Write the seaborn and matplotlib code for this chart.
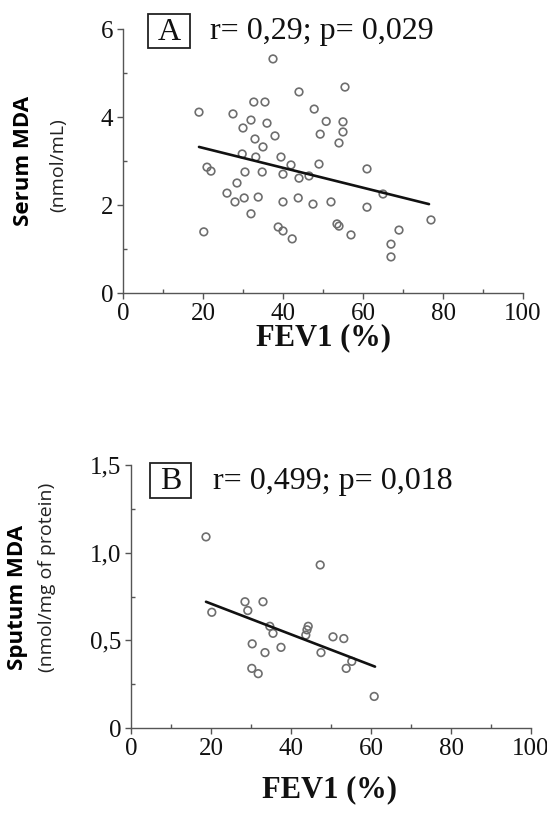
import matplotlib
matplotlib.use("Agg")
import matplotlib.pyplot as plt
import seaborn as sns
import pandas as pd
from matplotlib.patches import Rectangle
from matplotlib.ticker import MultipleLocator

# ---- data ----
fev1_a = [19, 27.5, 32.7, 35.5, 37.5, 32, 36, 30, 38, 33, 35, 29.8, 33.2, 39.5, 42,
          44, 55.5, 47.8, 50.8, 55, 55, 49.3, 54, 49, 61, 21, 22, 30.5, 34.8, 40,
          44, 46.5, 28.5, 26, 28, 30.3, 33.8, 40, 43.8, 47.5, 52, 61, 65, 32, 20.2,
          38.8, 40, 42.3, 53.5, 54, 57, 69, 67, 67, 77]
mda_a = [4.11, 4.07, 4.34, 4.34, 5.32, 3.93, 3.86, 3.75, 3.57, 3.5, 3.32, 3.16, 3.09, 3.09, 2.91,
         4.57, 4.68, 4.18, 3.9, 3.89, 3.66, 3.61, 3.41, 2.93, 2.82, 2.86, 2.77, 2.75, 2.75, 2.7,
         2.61, 2.66, 2.5, 2.27, 2.07, 2.16, 2.18, 2.07, 2.16, 2.02, 2.07, 1.95, 2.25, 1.8, 1.39,
         1.5, 1.41, 1.23, 1.57, 1.52, 1.32, 1.43, 1.11, 0.82, 1.66]
fit_a_x = [19, 76.5]
fit_a_y = [3.32, 2.02]

fev1_b = [18.75, 20.2, 28.5, 29.2, 33, 34.7, 35.5, 30.3, 33.5, 37.5, 30.2, 31.8,
          44.3, 44, 43.7, 47.3, 47.5, 50.5, 53.2, 55.2, 53.8, 60.8]
mda_b = [1.09, 0.66, 0.72, 0.67, 0.72, 0.58, 0.54, 0.48, 0.43, 0.46, 0.34, 0.31,
         0.58, 0.56, 0.53, 0.93, 0.43, 0.52, 0.51, 0.38, 0.34, 0.18]
fit_b_x = [18.75, 61]
fit_b_y = [0.72, 0.35]

x_ticks = [0, 20, 40, 60, 80, 100]
x_ticklabels = ["0", "20", "40", "60", "80", "100"]
ya_ticks = [0, 2, 4, 6]
ya_ticklabels = ["0", "2", "4", "6"]
yb_ticks = [0, 0.5, 1.0, 1.5]
yb_ticklabels = ["0", "0,5", "1,0", "1,5"]

sns.set_style("ticks")
plt.rcParams['font.family'] = ['Liberation Serif', 'DejaVu Sans']

W, H = 547, 813
fig = plt.figure(figsize=(W / 100, H / 100), dpi=100)


def fx(px):
    return px / W


def fy(py):
    return 1 - py / H


def make_panel(rect, xs, ys, lx, ly, yticks, yticklabels, ymax):
    ax = fig.add_axes(rect)
    df = pd.DataFrame({"x": xs, "y": ys})
    sns.scatterplot(data=df, x="x", y="y", ax=ax, marker="o", s=30,
                    facecolor="none", edgecolor="#6e6e6e", linewidth=1.2, zorder=3)
    dl = pd.DataFrame({"x": lx, "y": ly})
    sns.lineplot(data=dl, x="x", y="y", ax=ax, color="#111111", linewidth=1.9, zorder=4)
    ax.set_xlim(0, 100)
    ax.set_ylim(0, ymax)
    ax.set_xticks(x_ticks)
    ax.set_xticklabels(x_ticklabels)
    ax.set_yticks(yticks)
    ax.set_yticklabels(yticklabels)
    ax.xaxis.set_minor_locator(MultipleLocator(10))
    ax.yaxis.set_minor_locator(MultipleLocator(yticks[1] / 2))
    ax.tick_params(which="major", direction="out", length=4, width=1.0,
                   color="#555555", labelsize=18, pad=3, labelcolor="#111111")
    ax.tick_params(which="minor", direction="in", length=3, width=1.0, color="#555555")
    ax.set_xlabel("")
    ax.set_ylabel("")
    for s in ["top", "right"]:
        ax.spines[s].set_visible(False)
    for s in ["left", "bottom"]:
        ax.spines[s].set_color("#555555")
        ax.spines[s].set_linewidth(1.0)
    ax.patch.set_alpha(0)
    return ax


axA = make_panel([fx(123), fy(293), 400 / W, 264 / H], fev1_a, mda_a,
                 fit_a_x, fit_a_y, ya_ticks, ya_ticklabels, 6)
axB = make_panel([fx(131), fy(728), 400 / W, 263 / H], fev1_b, mda_b,
                 fit_b_x, fit_b_y, yb_ticks, yb_ticklabels, 1.5)

# x labels
fig.text(fx(323), fy(338), "FEV1 (%)", fontsize=22, fontweight="bold",
         ha="center", va="center", color="#111111")
fig.text(fx(330), fy(790), "FEV1 (%)", fontsize=22, fontweight="bold",
         ha="center", va="center", color="#111111")

# y labels
sans = ['Open Sans', 'DejaVu Sans']
fig.text(fx(24), fy(161), "Serum MDA", family=sans, fontsize=16, fontweight="bold",
         rotation=90, ha="center", va="center", color="black")
fig.text(fx(58), fy(165), "(nmol/mL)", family=sans, fontsize=14,
         rotation=90, ha="center", va="center", color="#222222")
fig.text(fx(18), fy(597), "Sputum MDA", family=sans, fontsize=16, fontweight="bold",
         rotation=90, ha="center", va="center", color="black")
fig.text(fx(47), fy(577), "(nmol/mg of protein)", family=sans, fontsize=14,
         rotation=90, ha="center", va="center", color="#222222")

# panel annotations
for (x0, y0, x1, y1, letter, txt, tx) in [
        (148, 14, 190, 48, "A", "r= 0,29; p= 0,029", 210),
        (150, 463, 191, 498, "B", "r= 0,499; p= 0,018", 213)]:
    fig.patches.append(Rectangle((fx(x0), fy(y1)), (x1 - x0) / W, (y1 - y0) / H,
                                 transform=fig.transFigure, fill=False,
                                 edgecolor="#222222", linewidth=1.3))
    fig.text(fx((x0 + x1) / 2), fy((y0 + y1) / 2 + 1), letter, fontsize=23,
             ha="center", va="center", color="#111111")
    fig.text(fx(tx), fy((y0 + y1) / 2 + 1), txt, fontsize=23,
             ha="left", va="center", color="#111111")

fig.savefig("out.png", dpi=100)
